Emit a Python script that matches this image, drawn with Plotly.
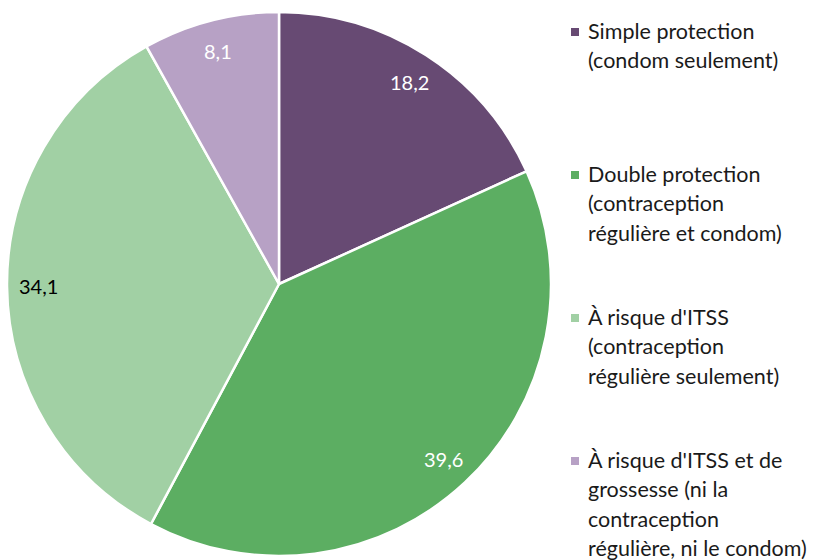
import math
import plotly.graph_objects as go

labels = [
    "Simple protection (condom seulement)",
    "Double protection (contraception régulière et condom)",
    "À risque d'ITSS (contraception régulière seulement)",
    "À risque d'ITSS et de grossesse (ni la contraception régulière, ni le condom)",
]
legend_lines = [
    ["Simple protection", "(condom seulement)"],
    ["Double protection", "(contraception", "régulière et condom)"],
    ["À risque d'ITSS", "(contraception", "régulière seulement)"],
    ["À risque d'ITSS et de", "grossesse (ni la", "contraception", "régulière, ni le condom)"],
]
values = [18.2, 39.6, 34.1, 8.1]
value_text = ["18,2", "39,6", "34,1", "8,1"]
colors = ["#674A73", "#5CAE62", "#A1D0A4", "#B7A1C5"]
label_colors = ["white", "white", "black", "white"]

W, H = 817, 560
FONT = "Lato, 'Open Sans', sans-serif"
dom_x = [7 / W, 551 / W]
dom_y = [1 - 556 / H, 1 - 12 / H]

fig = go.Figure(go.Pie(
    labels=labels,
    values=values,
    sort=False,
    direction="clockwise",
    rotation=0,
    marker=dict(colors=colors, line=dict(color="white", width=2.5)),
    textinfo="none",
    hoverinfo="label+value",
    showlegend=False,
    domain=dict(x=dom_x, y=dom_y),
))

# data labels placed along each slice's mid-angle
cx = (dom_x[0] + dom_x[1]) / 2 * W
cy = (1 - (dom_y[0] + dom_y[1]) / 2) * H
r = min((dom_x[1] - dom_x[0]) * W, (dom_y[1] - dom_y[0]) * H) / 2
total = sum(values)
cum = 0
annotations = []
for v, t, c in zip(values, value_text, label_colors):
    mid = (cum + v / 2) / total * 2 * math.pi
    cum += v
    px = cx + 0.885 * r * math.sin(mid)
    py = cy - 0.885 * r * math.cos(mid)
    annotations.append(dict(x=px / W, y=1 - py / H, xref="paper", yref="paper",
                            text=t, showarrow=False, font=dict(size=20, color=c, family=FONT),
                            xanchor="center", yanchor="middle"))

# manual legend
shapes = []
for i, (lines, col) in enumerate(zip(legend_lines, colors)):
    y0 = 31 + i * 143
    shapes.append(dict(type="rect", xref="paper", yref="paper",
                       x0=571 / W, x1=579 / W, y0=1 - (y0 + 5) / H, y1=1 - (y0 - 3) / H,
                       fillcolor=col, line=dict(width=0)))
    for j, ln in enumerate(lines):
        annotations.append(dict(x=586 / W, y=1 - (y0 + j * 29.3) / H, xref="paper", yref="paper",
                                text=ln, showarrow=False, xanchor="left", yanchor="middle",
                                font=dict(size=21.5, color="#1a1a1a", family=FONT)))

fig.update_layout(
    width=W, height=H,
    margin=dict(l=0, r=0, t=0, b=0),
    paper_bgcolor="white",
    plot_bgcolor="white",
    annotations=annotations,
    shapes=shapes,
    font=dict(family=FONT),
)

fig.write_html("out.html", config={"displayModeBar": False},
               post_script="document.body.style.margin='0';")
